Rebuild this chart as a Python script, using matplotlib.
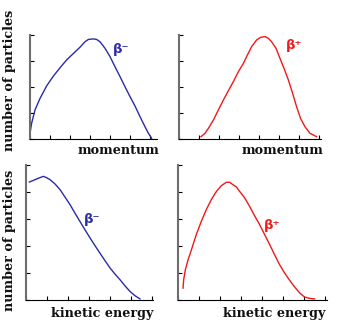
import numpy as np
import matplotlib
matplotlib.use("Agg")
import matplotlib.pyplot as plt

W, H = 339, 326

# Beta-decay spectra (arbitrary units: one unit per tick mark)
mom_minus_x = [0.0, 0.08, 0.25, 0.5, 0.83, 1.17, 1.5, 1.83, 2.17, 2.5, 2.75, 2.92, 3.17, 3.33,
               3.5, 3.75, 4.0, 4.25, 4.5, 4.75, 5.0, 5.25, 5.5, 5.75, 5.92, 6.08]
mom_minus_y = [0.22, 0.60, 1.12, 1.56, 2.04, 2.42, 2.74, 3.04, 3.29, 3.53, 3.74, 3.83, 3.85, 3.83,
               3.74, 3.49, 3.17, 2.78, 2.40, 2.01, 1.63, 1.27, 0.86, 0.47, 0.22, 0.03]

mom_plus_x = [1.1, 1.3, 1.47, 1.72, 1.97, 2.22, 2.47, 2.72, 2.97, 3.22, 3.42, 3.63, 3.88, 4.08,
              4.3, 4.47, 4.63, 4.85, 5.05, 5.25, 5.47, 5.68, 5.88, 6.08, 6.3, 6.55, 6.88]
mom_plus_y = [0.09, 0.22, 0.41, 0.73, 1.12, 1.50, 1.86, 2.21, 2.59, 2.91, 3.23, 3.55, 3.81, 3.91,
              3.94, 3.87, 3.74, 3.49, 3.10, 2.72, 2.27, 1.76, 1.24, 0.79, 0.47, 0.22, 0.09]

ke_minus_x = [0.16, 0.35, 0.59, 0.83, 0.98, 1.14, 1.38, 1.62, 1.86, 2.1, 2.33, 2.57, 2.81, 3.05,
              3.29, 3.52, 3.76, 4.0, 4.24, 4.48, 4.71, 4.95, 5.19, 5.43]
ke_minus_y = [4.37, 4.43, 4.51, 4.58, 4.53, 4.46, 4.30, 4.09, 3.81, 3.53, 3.22, 2.91, 2.60, 2.30,
              2.01, 1.74, 1.46, 1.19, 0.96, 0.75, 0.53, 0.32, 0.16, 0.04]

ke_plus_x = [0.24, 0.27, 0.35, 0.48, 0.64, 0.87, 1.11, 1.35, 1.59, 1.83, 2.06, 2.3, 2.46, 2.62,
             2.78, 2.94, 3.18, 3.41, 3.65, 3.89, 4.13, 4.37, 4.6, 4.84, 5.08, 5.32, 5.56, 5.8,
             6.03, 6.27, 6.51]
ke_plus_y = [0.44, 0.75, 1.12, 1.49, 1.86, 2.42, 2.91, 3.35, 3.72, 4.02, 4.23, 4.36, 4.36, 4.27,
             4.19, 4.02, 3.78, 3.47, 3.12, 2.79, 2.42, 2.05, 1.68, 1.31, 1.00, 0.73, 0.48, 0.26,
             0.11, 0.06, 0.04]

x_labels = ["momentum", "momentum", "kinetic energy", "kinetic energy"]
y_label = "number of particles"
tags = ["β⁻", "β⁺", "β⁻", "β⁺"]

BLUE = "#2b2ba8"
RED = "#f21818"

fig = plt.figure(figsize=(W / 100, H / 100), dpi=100)
fig.patch.set_facecolor("white")


def add_axes(left, top, right, bottom):
    return fig.add_axes([left / W, 1 - bottom / H, (right - left) / W, (bottom - top) / H])


def style(ax, xmax, ymax):
    ax.set_xlim(0, xmax)
    ax.set_ylim(0, ymax)
    ax.set_xticks(np.arange(0, int(xmax) + 1))
    ax.set_yticks(np.arange(0, ymax + 1))
    ax.tick_params(direction="in", length=3.2, width=0.8, color="black",
                   labelbottom=False, labelleft=False)
    for s in ("top", "right"):
        ax.spines[s].set_visible(False)
    ax.spines["left"].set_color("#6e6e6e")
    ax.spines["left"].set_linewidth(1.5)
    ax.spines["bottom"].set_color("black")
    ax.spines["bottom"].set_linewidth(0.8)
    ax.patch.set_alpha(0)


panels = [
    (add_axes(30, 35, 157, 139), 6.35, 4, mom_minus_x, mom_minus_y, BLUE),
    (add_axes(179, 35, 321, 139), 7.1, 4, mom_plus_x, mom_plus_y, RED),
    (add_axes(26, 165, 153, 300), 6.05, 5, ke_minus_x, ke_minus_y, BLUE),
    (add_axes(178, 165, 327, 300), 7.1, 5, ke_plus_x, ke_plus_y, RED),
]

for ax, xmax, ymax, xs, ys, col in panels:
    style(ax, xmax, ymax)
    ax.plot(xs, ys, color=col, lw=1.0, solid_joinstyle="round", clip_on=False)


def ftext(x, y, s, **kw):
    fig.text(x / W, 1 - y / H, s, **kw)


label_font = dict(family="DejaVu Serif", fontweight="bold", fontsize=9.2,
                  ha="center", va="center", color="#111111")

ftext(118, 150, x_labels[0], **label_font)
ftext(283, 150, x_labels[1], **label_font)
ftext(102, 313, x_labels[2], **label_font)
ftext(274, 313, x_labels[3], **label_font)

ftext(10, 80, y_label, rotation=90, **label_font)
ftext(10, 240, y_label, rotation=90, **label_font)

tag_font = dict(family="DejaVu Sans", fontweight="bold", fontsize=9.5,
                ha="center", va="center")
ftext(121, 49, tags[0], color=BLUE, **tag_font)
ftext(294, 45, tags[1], color=RED, **tag_font)
ftext(92, 220, tags[2], color=BLUE, **tag_font)
ftext(272, 226, tags[3], color=RED, **tag_font)

fig.savefig("out.png", dpi=100, facecolor="white")
